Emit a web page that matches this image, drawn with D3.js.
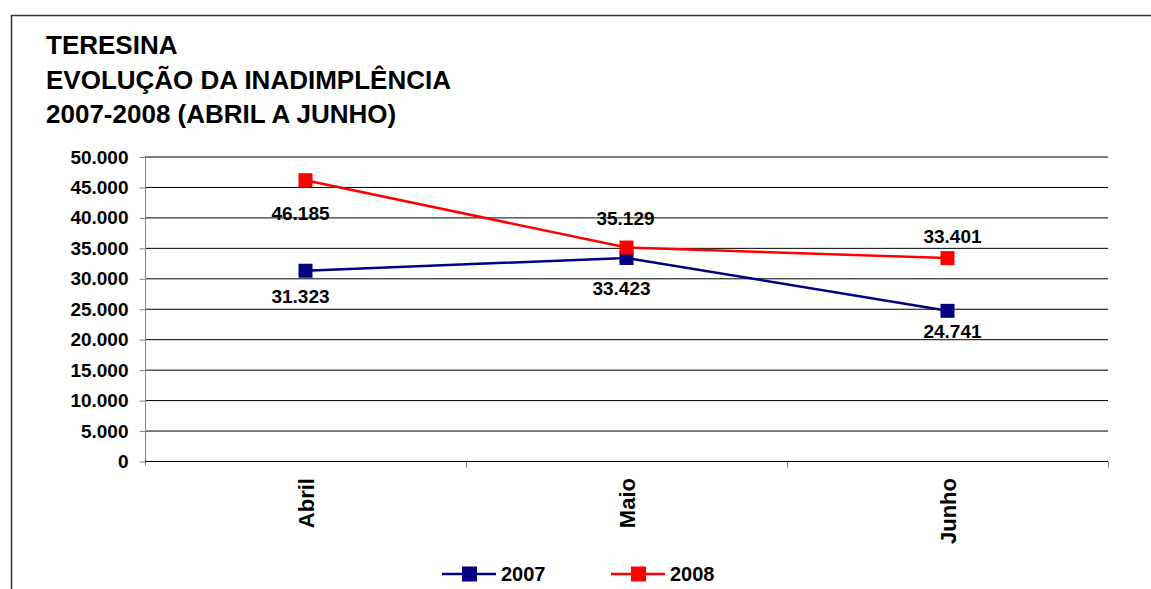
<!DOCTYPE html>
<html>
<head>
  <meta charset="utf-8">
  <title>Teresina - evolução da inadimplência</title>
  <script src="https://d3js.org/d3.v7.min.js"></script>
  <style>
    body { margin: 0; background: #fff; }
    text { font-family: "Liberation Sans", Arial, sans-serif; font-weight: bold; fill: #000; }
  </style>
</head>
<body>
  <script>
    // dados
    const categorias = ['Abril', 'Maio', 'Junho'];
    const serie2007 = [31323, 33423, 24741];
    const serie2008 = [46185, 35129, 33401];
    const titulo = ['TERESINA', 'EVOLUÇÃO DA INADIMPLÊNCIA', '2007-2008 (ABRIL A JUNHO)'];

    // posição manual dos rótulos (como no Excel), [dx, dy] em px
    const rotulos2007 = [[-5, 32], [-5, 37], [5, 27]];
    const rotulos2008 = [[-5, 40], [-1, -23], [5, -15]];

    const series = [
      { nome: '2007', valores: serie2007, cor: '#000080', rotulos: rotulos2007 },
      { nome: '2008', valores: serie2008, cor: '#ff0000', rotulos: rotulos2008 }
    ];

    const width = 1151, height = 589;
    const fmt = d3.formatLocale({ decimal: ',', thousands: '.', grouping: [3], currency: ['R$', ''] }).format(',d');

    const svg = d3.select('body').append('svg')
      .attr('width', width)
      .attr('height', height);

    // moldura
    svg.append('path')
      .attr('d', `M11.5,${height} V15.5 H${width}`)
      .attr('fill', 'none')
      .attr('stroke', '#333')
      .attr('stroke-width', 1.5);

    // título
    svg.append('g').selectAll('text')
      .data(titulo)
      .enter().append('text')
      .attr('x', 46)
      .attr('y', (d, i) => 54 + i * 34.5)
      .style('font-size', '26px')
      .text(d => d);

    const x = d3.scaleBand().domain(categorias).range([145, 1108]).padding(0);
    const y = d3.scaleLinear().domain([0, 50000]).range([461.5, 157]);
    const cx = d => x(d) + x.bandwidth() / 2;

    // grade
    svg.append('g').selectAll('line')
      .data(y.ticks(10))
      .enter().append('line')
      .attr('x1', 145).attr('x2', 1108)
      .attr('y1', d => y(d)).attr('y2', d => y(d))
      .attr('stroke', '#000')
      .attr('stroke-width', 1);

    // eixo y
    const eixoY = svg.append('g')
      .attr('transform', 'translate(145.5,0)')
      .call(d3.axisLeft(y).ticks(10).tickFormat(fmt).tickSize(6).tickPadding(11));
    eixoY.select('.domain').attr('stroke', '#808080').attr('d', `M0,${y(50000)}V${y(0) + 4}`);
    eixoY.selectAll('.tick line').attr('stroke', '#808080');
    eixoY.selectAll('.tick text').style('font-size', '19px').attr('font-family', null);

    // eixo x
    svg.append('line')
      .attr('x1', 145).attr('x2', 1108)
      .attr('y1', y(0)).attr('y2', y(0))
      .attr('stroke', '#000');
    svg.append('g').selectAll('line')
      .data(categorias)
      .enter().append('line')
      .attr('x1', d => x(d) + x.bandwidth() + 0.5)
      .attr('x2', d => x(d) + x.bandwidth() + 0.5)
      .attr('y1', y(0)).attr('y2', y(0) + 6)
      .attr('stroke', '#808080');

    svg.append('g').selectAll('text')
      .data(categorias)
      .enter().append('text')
      .attr('transform', d => `translate(${cx(d) + 8},478) rotate(-90)`)
      .attr('text-anchor', 'end')
      .style('font-size', '22px')
      .text(d => d);

    // linhas e marcadores
    const linha = d3.line().x((d, i) => cx(categorias[i])).y(d => y(d));

    series.forEach(s => {
      const g = svg.append('g');
      g.append('path')
        .attr('d', linha(s.valores))
        .attr('fill', 'none')
        .attr('stroke', s.cor)
        .attr('stroke-width', 2.5);
      g.selectAll('rect')
        .data(s.valores)
        .enter().append('rect')
        .attr('x', (d, i) => cx(categorias[i]) - 7)
        .attr('y', d => y(d) - 7)
        .attr('width', 14).attr('height', 14)
        .attr('fill', s.cor);
      g.selectAll('text')
        .data(s.valores)
        .enter().append('text')
        .attr('x', (d, i) => cx(categorias[i]) + s.rotulos[i][0])
        .attr('y', (d, i) => y(d) + s.rotulos[i][1])
        .attr('text-anchor', 'middle')
        .style('font-size', '19px')
        .text(d => fmt(d));
    });

    // legenda
    const legX = [442, 611];
    const leg = svg.append('g').selectAll('g')
      .data(series)
      .enter().append('g')
      .attr('transform', (d, i) => `translate(${legX[i]},574)`);
    leg.append('line')
      .attr('x1', 0).attr('x2', 54)
      .attr('stroke', d => d.cor).attr('stroke-width', 2.5);
    leg.append('rect')
      .attr('x', 20).attr('y', -7.5)
      .attr('width', 15).attr('height', 15)
      .attr('fill', d => d.cor);
    leg.append('text')
      .attr('x', 59).attr('y', 7)
      .style('font-size', '20px')
      .text(d => d.nome);
  </script>
</body>
</html>
